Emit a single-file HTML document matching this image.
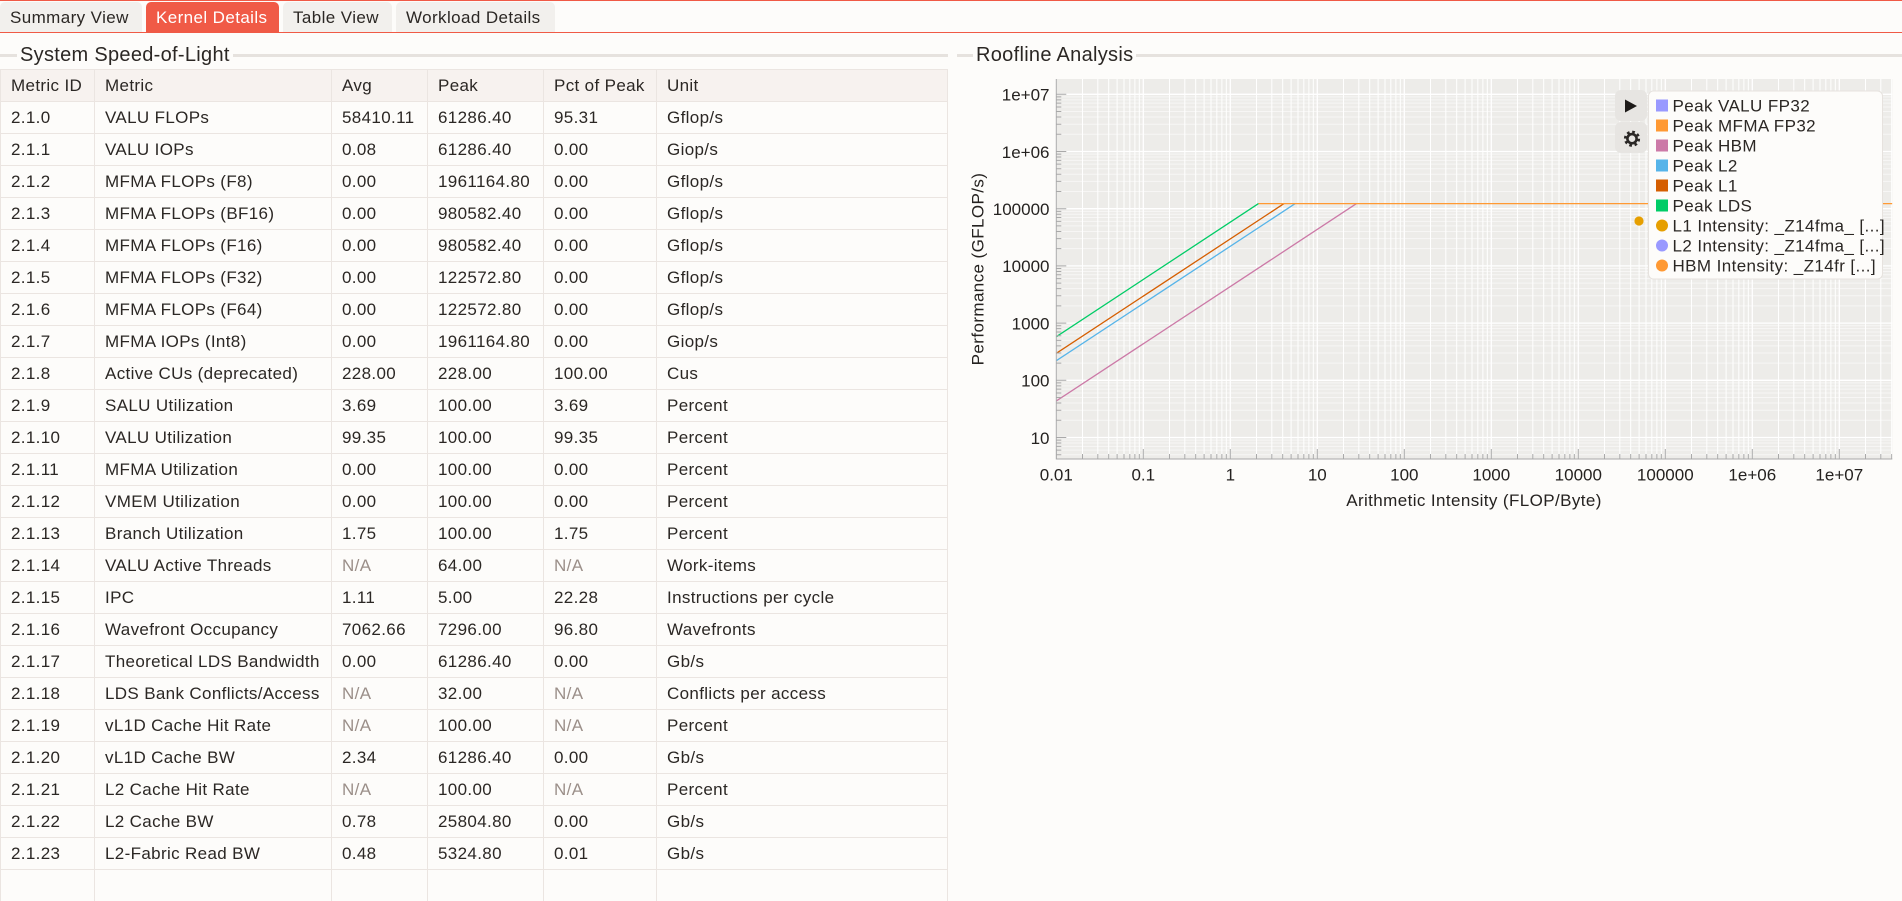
<!DOCTYPE html>
<html>
<head>
<meta charset="utf-8">
<style>
  html,body{margin:0;padding:0;}
  body{width:1902px;height:874px;overflow:hidden;position:relative;background:#fdfcfa;
       font-family:"Liberation Sans",Arial,sans-serif;color:#2b2724;}
  .redtop{position:absolute;left:0;top:0;width:1902px;height:1px;background:#f05a46;}
  .redline{position:absolute;left:0;top:32px;width:1902px;height:1px;background:#f05a46;}
  .tab{position:absolute;top:2px;height:30px;border-radius:5px 5px 0 0;background:#f2f0ed;
       font-size:17px;line-height:32px;letter-spacing:0.4px;box-sizing:border-box;padding-left:10px;
       white-space:nowrap;overflow:hidden;color:#2b2724;}
  .tab.active{background:#f05a46;color:#fff;}
  .fline{position:absolute;top:54px;height:3px;background:#e6e2de;}
  .ftitle{position:absolute;top:44px;font-size:20px;line-height:23px;letter-spacing:0.3px;
          background:#fdfcfa;padding:0 3px;white-space:nowrap;color:#2b2724;}
  .tbl{position:absolute;left:0;top:69px;width:948px;}
  .row{display:flex;height:32px;box-sizing:border-box;border-top:1px solid #ebe5e1;border-left:1px solid #ebe5e1;}
  .row.hdr{background:#f7f2ef;}
  .c{box-sizing:border-box;border-right:1px solid #ebe5e1;padding-left:10px;font-size:17px;
     line-height:31px;letter-spacing:0.35px;white-space:nowrap;overflow:hidden;}
  .c1{width:94px}.c2{width:237px}.c3{width:96px}.c4{width:116px}.c5{width:113px}.c6{width:291px}
  .na{color:#9b8f89;}
  svg{position:absolute;left:0;top:0;}
</style>
</head>
<body>
<div class="redtop"></div>
<div class="tab" style="left:0;width:142px;">Summary View</div>
<div class="tab active" style="left:146px;width:133px;">Kernel Details</div>
<div class="tab" style="left:283px;width:109px;">Table View</div>
<div class="tab" style="left:396px;width:159px;">Workload Details</div>
<div class="redline"></div>

<div class="fline" style="left:0;width:948px;"></div>
<div class="ftitle" style="left:17px;">System Speed-of-Light</div>
<div class="fline" style="left:957px;width:945px;"></div>
<div class="ftitle" style="left:973px;">Roofline Analysis</div>

<div class="tbl">
  <div class="row hdr"><div class="c c1">Metric ID</div><div class="c c2">Metric</div><div class="c c3">Avg</div><div class="c c4">Peak</div><div class="c c5">Pct of Peak</div><div class="c c6">Unit</div></div>
  <div class="row"><div class="c c1">2.1.0</div><div class="c c2">VALU FLOPs</div><div class="c c3">58410.11</div><div class="c c4">61286.40</div><div class="c c5">95.31</div><div class="c c6">Gflop/s</div></div>
  <div class="row"><div class="c c1">2.1.1</div><div class="c c2">VALU IOPs</div><div class="c c3">0.08</div><div class="c c4">61286.40</div><div class="c c5">0.00</div><div class="c c6">Giop/s</div></div>
  <div class="row"><div class="c c1">2.1.2</div><div class="c c2">MFMA FLOPs (F8)</div><div class="c c3">0.00</div><div class="c c4">1961164.80</div><div class="c c5">0.00</div><div class="c c6">Gflop/s</div></div>
  <div class="row"><div class="c c1">2.1.3</div><div class="c c2">MFMA FLOPs (BF16)</div><div class="c c3">0.00</div><div class="c c4">980582.40</div><div class="c c5">0.00</div><div class="c c6">Gflop/s</div></div>
  <div class="row"><div class="c c1">2.1.4</div><div class="c c2">MFMA FLOPs (F16)</div><div class="c c3">0.00</div><div class="c c4">980582.40</div><div class="c c5">0.00</div><div class="c c6">Gflop/s</div></div>
  <div class="row"><div class="c c1">2.1.5</div><div class="c c2">MFMA FLOPs (F32)</div><div class="c c3">0.00</div><div class="c c4">122572.80</div><div class="c c5">0.00</div><div class="c c6">Gflop/s</div></div>
  <div class="row"><div class="c c1">2.1.6</div><div class="c c2">MFMA FLOPs (F64)</div><div class="c c3">0.00</div><div class="c c4">122572.80</div><div class="c c5">0.00</div><div class="c c6">Gflop/s</div></div>
  <div class="row"><div class="c c1">2.1.7</div><div class="c c2">MFMA IOPs (Int8)</div><div class="c c3">0.00</div><div class="c c4">1961164.80</div><div class="c c5">0.00</div><div class="c c6">Giop/s</div></div>
  <div class="row"><div class="c c1">2.1.8</div><div class="c c2">Active CUs (deprecated)</div><div class="c c3">228.00</div><div class="c c4">228.00</div><div class="c c5">100.00</div><div class="c c6">Cus</div></div>
  <div class="row"><div class="c c1">2.1.9</div><div class="c c2">SALU Utilization</div><div class="c c3">3.69</div><div class="c c4">100.00</div><div class="c c5">3.69</div><div class="c c6">Percent</div></div>
  <div class="row"><div class="c c1">2.1.10</div><div class="c c2">VALU Utilization</div><div class="c c3">99.35</div><div class="c c4">100.00</div><div class="c c5">99.35</div><div class="c c6">Percent</div></div>
  <div class="row"><div class="c c1">2.1.11</div><div class="c c2">MFMA Utilization</div><div class="c c3">0.00</div><div class="c c4">100.00</div><div class="c c5">0.00</div><div class="c c6">Percent</div></div>
  <div class="row"><div class="c c1">2.1.12</div><div class="c c2">VMEM Utilization</div><div class="c c3">0.00</div><div class="c c4">100.00</div><div class="c c5">0.00</div><div class="c c6">Percent</div></div>
  <div class="row"><div class="c c1">2.1.13</div><div class="c c2">Branch Utilization</div><div class="c c3">1.75</div><div class="c c4">100.00</div><div class="c c5">1.75</div><div class="c c6">Percent</div></div>
  <div class="row"><div class="c c1">2.1.14</div><div class="c c2">VALU Active Threads</div><div class="c c3 na">N/A</div><div class="c c4">64.00</div><div class="c c5 na">N/A</div><div class="c c6">Work-items</div></div>
  <div class="row"><div class="c c1">2.1.15</div><div class="c c2">IPC</div><div class="c c3">1.11</div><div class="c c4">5.00</div><div class="c c5">22.28</div><div class="c c6">Instructions per cycle</div></div>
  <div class="row"><div class="c c1">2.1.16</div><div class="c c2">Wavefront Occupancy</div><div class="c c3">7062.66</div><div class="c c4">7296.00</div><div class="c c5">96.80</div><div class="c c6">Wavefronts</div></div>
  <div class="row"><div class="c c1">2.1.17</div><div class="c c2">Theoretical LDS Bandwidth</div><div class="c c3">0.00</div><div class="c c4">61286.40</div><div class="c c5">0.00</div><div class="c c6">Gb/s</div></div>
  <div class="row"><div class="c c1">2.1.18</div><div class="c c2">LDS Bank Conflicts/Access</div><div class="c c3 na">N/A</div><div class="c c4">32.00</div><div class="c c5 na">N/A</div><div class="c c6">Conflicts per access</div></div>
  <div class="row"><div class="c c1">2.1.19</div><div class="c c2">vL1D Cache Hit Rate</div><div class="c c3 na">N/A</div><div class="c c4">100.00</div><div class="c c5 na">N/A</div><div class="c c6">Percent</div></div>
  <div class="row"><div class="c c1">2.1.20</div><div class="c c2">vL1D Cache BW</div><div class="c c3">2.34</div><div class="c c4">61286.40</div><div class="c c5">0.00</div><div class="c c6">Gb/s</div></div>
  <div class="row"><div class="c c1">2.1.21</div><div class="c c2">L2 Cache Hit Rate</div><div class="c c3 na">N/A</div><div class="c c4">100.00</div><div class="c c5 na">N/A</div><div class="c c6">Percent</div></div>
  <div class="row"><div class="c c1">2.1.22</div><div class="c c2">L2 Cache BW</div><div class="c c3">0.78</div><div class="c c4">25804.80</div><div class="c c5">0.00</div><div class="c c6">Gb/s</div></div>
  <div class="row"><div class="c c1">2.1.23</div><div class="c c2">L2-Fabric Read BW</div><div class="c c3">0.48</div><div class="c c4">5324.80</div><div class="c c5">0.01</div><div class="c c6">Gb/s</div></div>
  <div class="row"><div class="c c1">&nbsp;</div><div class="c c2">&nbsp;</div><div class="c c3">&nbsp;</div><div class="c c4">&nbsp;</div><div class="c c5">&nbsp;</div><div class="c c6">&nbsp;</div></div>
</div>

<svg width="1902" height="874" viewBox="0 0 1902 874" xmlns="http://www.w3.org/2000/svg" font-family="Liberation Sans, Arial, sans-serif">
  <defs>
    <clipPath id="pc"><rect x="1056.3" y="79" width="836" height="380"/></clipPath>
    <g id="vg" stroke="#ffffff" fill="none">
      <path d="M0 79V459" stroke-width="1.3"/>
      <path d="M26.19 79V459M41.51 79V459M52.38 79V459M60.81 79V459M67.7 79V459M73.52 79V459M78.57 79V459M83.02 79V459" stroke-width="1"/>
    </g>
    <g id="hg" stroke="#ffffff" fill="none">
      <path d="M1056.3 0H1892.3" stroke-width="1.3"/>
      <path d="M1056.3 -17.22H1892.3M1056.3 -27.29H1892.3M1056.3 -34.44H1892.3M1056.3 -39.98H1892.3M1056.3 -44.52H1892.3M1056.3 -48.34H1892.3M1056.3 -51.66H1892.3M1056.3 -54.58H1892.3" stroke-width="1" stroke-opacity="0.55"/>
    </g>
    <g id="xt" stroke="#a9a9a9" fill="none" stroke-width="1">
      <path d="M0 449V459M26.19 454V459M41.51 454V459M52.38 454V459M60.81 454V459M67.7 454V459M73.52 454V459M78.57 454V459M83.02 454V459"/>
    </g>
    <g id="yt" stroke="#a9a9a9" fill="none" stroke-width="1">
      <path d="M1056.3 0H1066.3M1056.3 -17.22H1061.3M1056.3 -27.29H1061.3M1056.3 -34.44H1061.3M1056.3 -39.98H1061.3M1056.3 -44.52H1061.3M1056.3 -48.34H1061.3M1056.3 -51.66H1061.3M1056.3 -54.58H1061.3"/>
    </g>
  </defs>

  <rect x="1056.3" y="79" width="836" height="380" fill="#edece9"/>

  <g clip-path="url(#pc)">
    <use href="#vg" x="1056.3"/><use href="#vg" x="1143.3"/><use href="#vg" x="1230.3"/><use href="#vg" x="1317.3"/><use href="#vg" x="1404.3"/>
    <use href="#vg" x="1491.3"/><use href="#vg" x="1578.3"/><use href="#vg" x="1665.3"/><use href="#vg" x="1752.3"/><use href="#vg" x="1839.3"/>
    <use href="#hg" y="494.7"/><use href="#hg" y="437.5"/><use href="#hg" y="380.3"/><use href="#hg" y="323.1"/>
    <use href="#hg" y="265.9"/><use href="#hg" y="208.7"/><use href="#hg" y="151.5"/><use href="#hg" y="94.3"/>

    <g fill="none" stroke-width="1.3">
      <path d="M1056.3 401L1356.5 203.6" stroke="#cc79a7"/>
      <path d="M1056.3 360.7L1295.2 203.6" stroke="#56b4e9"/>
      <path d="M1056.3 353.3L1284 203.6" stroke="#d55e00"/>
      <path d="M1056.3 336.7L1258.5 203.6" stroke="#00cc66"/>
      <path d="M1258.5 203.6H1892.3" stroke="#ff9933"/>
    </g>
    <circle cx="1639" cy="221" r="4.6" fill="#e69f00"/>

    <use href="#xt" x="1056.3"/><use href="#xt" x="1143.3"/><use href="#xt" x="1230.3"/><use href="#xt" x="1317.3"/><use href="#xt" x="1404.3"/>
    <use href="#xt" x="1491.3"/><use href="#xt" x="1578.3"/><use href="#xt" x="1665.3"/><use href="#xt" x="1752.3"/><use href="#xt" x="1839.3"/>
    <use href="#yt" y="494.7"/><use href="#yt" y="437.5"/><use href="#yt" y="380.3"/><use href="#yt" y="323.1"/>
    <use href="#yt" y="265.9"/><use href="#yt" y="208.7"/><use href="#yt" y="151.5"/><use href="#yt" y="94.3"/>
  </g>

  <path d="M1056.3 79V459.5M1055.8 459H1892.3" stroke="#a9a9a9" stroke-width="1" fill="none"/>

  <g font-size="17" fill="#252220" text-anchor="end">
    <text x="1049.5" y="100.6">1e+07</text>
    <text x="1049.5" y="157.8">1e+06</text>
    <text x="1049.5" y="215">100000</text>
    <text x="1049.5" y="272.2">10000</text>
    <text x="1049.5" y="329.4">1000</text>
    <text x="1049.5" y="386.6">100</text>
    <text x="1049.5" y="443.8">10</text>
  </g>
  <g font-size="17" fill="#252220" text-anchor="middle">
    <text x="1056.3" y="480.5">0.01</text>
    <text x="1143.3" y="480.5">0.1</text>
    <text x="1230.3" y="480.5">1</text>
    <text x="1317.3" y="480.5">10</text>
    <text x="1404.3" y="480.5">100</text>
    <text x="1491.3" y="480.5">1000</text>
    <text x="1578.3" y="480.5">10000</text>
    <text x="1665.3" y="480.5">100000</text>
    <text x="1752.3" y="480.5">1e+06</text>
    <text x="1839.3" y="480.5">1e+07</text>
  </g>

  <text x="1474" y="506" font-size="17" fill="#252220" text-anchor="middle" letter-spacing="0.4">Arithmetic Intensity (FLOP/Byte)</text>
  <text transform="translate(983.5,269) rotate(-90)" x="0" y="0" font-size="17" fill="#252220" text-anchor="middle" letter-spacing="0.4">Performance (GFLOP/s)</text>

  <rect x="1615" y="90" width="32" height="31" rx="6" fill="#e7e5e2"/>
  <rect x="1615" y="122" width="32" height="31" rx="6" fill="#e7e5e2"/>
  <path d="M1625 99.5L1637 106L1625 112.5Z" fill="#1e1b19"/>
  <g transform="translate(1632,138.7)">
    <circle r="6.6" fill="none" stroke="#2a2725" stroke-width="3" stroke-dasharray="2.6 2.58"/>
    <circle r="4.6" fill="none" stroke="#2a2725" stroke-width="2.6"/>
  </g>

  <rect x="1648.5" y="91" width="234" height="188" rx="5" fill="#fdfcfa" stroke="#e6e2de" stroke-width="1"/>
  <g font-size="17" fill="#2b2724" letter-spacing="0.4">
    <rect x="1656" y="99.5" width="12" height="12" fill="#9999ff"/>
    <text x="1672.5" y="111.7">Peak VALU FP32</text>
    <rect x="1656" y="119.5" width="12" height="12" fill="#ff9933"/>
    <text x="1672.5" y="131.7">Peak MFMA FP32</text>
    <rect x="1656" y="139.5" width="12" height="12" fill="#cc79a7"/>
    <text x="1672.5" y="151.7">Peak HBM</text>
    <rect x="1656" y="159.5" width="12" height="12" fill="#56b4e9"/>
    <text x="1672.5" y="171.7">Peak L2</text>
    <rect x="1656" y="179.5" width="12" height="12" fill="#d55e00"/>
    <text x="1672.5" y="191.7">Peak L1</text>
    <rect x="1656" y="199.5" width="12" height="12" fill="#00cc66"/>
    <text x="1672.5" y="211.7">Peak LDS</text>
    <circle cx="1662" cy="225.5" r="6" fill="#e69f00"/>
    <text x="1672.5" y="231.7">L1 Intensity: _Z14fma_ [...]</text>
    <circle cx="1662" cy="245.5" r="6" fill="#9999ff"/>
    <text x="1672.5" y="251.7">L2 Intensity: _Z14fma_ [...]</text>
    <circle cx="1662" cy="265.5" r="6" fill="#ff9933"/>
    <text x="1672.5" y="271.7">HBM Intensity: _Z14fr [...]</text>
  </g>
</svg>
</body>
</html>
